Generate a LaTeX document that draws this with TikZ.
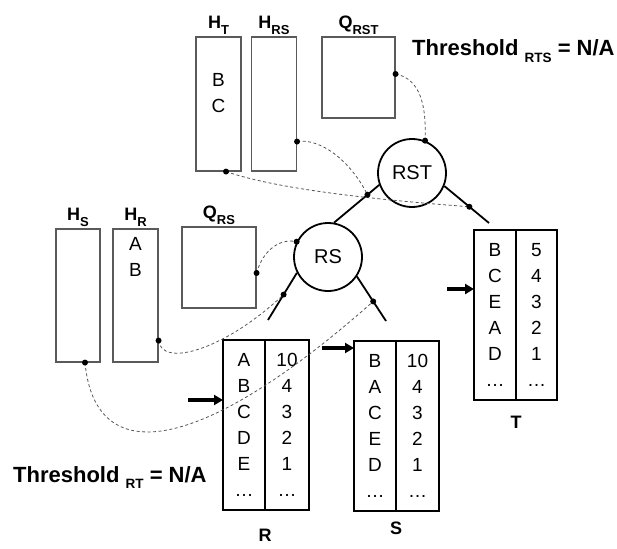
\documentclass[tikz,border=0pt]{standalone}
\usepackage{fontspec}
\setmainfont{Liberation Sans}
\usetikzlibrary{arrows.meta,calc,positioning}
\definecolor{frameGray}{HTML}{5A5A5A}
\definecolor{linkGray}{HTML}{555555}
\newcommand{\lowsub}[2][13]{\raisebox{-0.3em}{\fontsize{#1}{#1}\selectfont #2}}
\tikzset{
  hash box/.style={draw=frameGray, line width=1.1pt, minimum width=45pt,
    minimum height=134pt, inner sep=0pt},
  queue box/.style={draw=frameGray, line width=1.1pt, minimum width=74pt,
    minimum height=81pt, inner sep=0pt},
  col box/.style={draw=black, line width=1.5pt, minimum width=42pt,
    minimum height=170pt, inner sep=0pt, outer sep=0pt, align=center,
    font=\fontsize{19}{26}\selectfont},
  key text/.style={align=center, inner sep=0pt,
    font=\fontsize{19}{26}\selectfont},
  join op/.style={circle, draw=black, line width=1.8pt, minimum size=68pt,
    inner sep=0pt, font=\fontsize{20}{22}\selectfont},
  branch/.style={line width=1.8pt, draw=black},
  link/.style={draw=linkGray, line width=0.8pt, dash pattern=on 3pt off 2.5pt},
  ptr/.style={draw=black, line width=3.4pt,
    -{Triangle[length=9pt,width=10pt]}},
  box label/.style={font=\bfseries\fontsize{18}{20}\selectfont, inner sep=1pt},
  tab label/.style={font=\bfseries\fontsize{18}{20}\selectfont, inner sep=0pt},
  thr text/.style={font=\bfseries\fontsize{22}{24}\selectfont, inner sep=0pt,
    anchor=base west},
  dot/.style={fill=black}
}
\begin{document}
\begin{tikzpicture}[x=1pt,y=-1pt]
  \useasboundingbox (0,0) rectangle (617,548);

  % hash tables and queues
  \node[hash box] (ht) at (218.5,104) {};
  \node[hash box] (hrs) at (274,104) {};
  \node[queue box, minimum width=73pt] (qrst) at (358.5,77.5) {};
  \node[hash box, minimum width=44pt, minimum height=133pt] (hs) at (78,295.5) {};
  \node[hash box, minimum height=133pt] (hr) at (135.5,295.5) {};
  \node[queue box] (qrs) at (219,267.5) {};
  \node[box label, above=1pt of ht] (htl) {H\lowsub{T}};
  \node[box label, above=1pt of hrs] (hrsl) {H\lowsub{RS}};
  \node[box label, above=1pt of qrst] (qrstl) {Q\lowsub{RST}};
  \node[box label, above=1pt of hs] (hsl) {H\lowsub{S}};
  \node[box label, above=1pt of hr] (hrl) {H\lowsub{R}};
  \node[box label, above=1pt of qrs] (qrsl) {Q\lowsub{RS}};
  \node[key text] (htk) at (218.5,93) {B\\C};
  \node[key text] (hrk) at (135.5,256.5) {A\\B};

  \node[thr text] (thrts) at (412,56) {Threshold \lowsub[13.5]{RTS} = N/A};
  \node[thr text] (thrt) at (13,482) {Threshold \lowsub[13.5]{RT} = N/A};

  % join operators
  \node[join op] (rst) at (412,173) {RST};
  \node[join op] (rs) at (328,257) {RS};
  \coordinate (rstend) at (489,223);
  \coordinate (rsleft) at (268,320);
  \coordinate (rsright) at (386,321);
  \draw[branch] (rst.200) -- coordinate[pos=0.26] (rstl) (rs.80);
  \draw[branch] (rst.-22) -- coordinate[pos=0.56] (rstr) (rstend);
  \draw[branch] (rs.207) -- coordinate[pos=0.46] (rsl) (rsleft);
  \draw[branch] (rs.-34) -- coordinate[pos=0.56] (rsr) (rsright);

  % sorted relations
  \node[col box] (rk) at (244,425) {A\\B\\C\\D\\E\\\dots};
  \node[col box, minimum width=44pt, right=0pt of rk] (rv) {10\\4\\3\\2\\1\\\dots};
  \node[col box] (sk) at (375,426) {B\\A\\C\\E\\D\\\dots};
  \node[col box, minimum width=43pt, right=0pt of sk] (sv) {10\\4\\3\\2\\1\\\dots};
  \node[col box] (tk) at (495,315) {B\\C\\E\\A\\D\\\dots};
  \node[col box, minimum width=41pt, right=0pt of tk] (tv) {5\\4\\3\\2\\1\\\dots};
  \node[tab label, below=19pt of rk.south east] (rl) {R};
  \node[tab label, below=11pt of sk.south east] (sl) {S};
  \node[tab label, below=16pt of tk.south east] (tl) {T};

  \coordinate (rin) at (188,400);
  \coordinate (sin) at (322,348);
  \coordinate (tin) at (447,289);
  \draw[ptr] (rin) -- (rin -| rk.west);
  \draw[ptr] (sin) -- (sin -| sk.west);
  \draw[ptr] (tin) -- (tin -| tk.west);

  % pointers between state and operators
  \coordinate (qrstdot) at ([yshift=3.5pt]qrst.east);
  \coordinate (rsttop) at (rst.68);
  \coordinate (hrsdot) at ([yshift=30pt]hrs.south east);
  \coordinate (htdot) at ([xshift=7.5pt]ht.south);
  \coordinate (qrsdot) at ([yshift=-5.5pt]qrs.east);
  \coordinate (rstop) at (rs.154);
  \coordinate (hrdot) at ([yshift=22pt]hr.south east);
  \coordinate (hsdot) at ([xshift=7pt]hs.south);
  \draw[link] (qrstdot) .. controls (415,78) and (427,95) .. (rsttop);
  \draw[link] (hrsdot) .. controls (320,138) and (350,160) .. (rstl);
  \draw[link] (htdot) .. controls (280,190) and (380,200) .. (rstr);
  \draw[link] (qrsdot) .. controls (263,250) and (280,238) .. (rstop);
  \draw[link] (hrdot) .. controls (162,368) and (225,350) .. (rsl);
  \draw[link] (hsdot) .. controls (95,470) and (200,455) .. (rsr);
  \foreach \p in {qrstdot,rsttop,hrsdot,htdot,qrsdot,rstop,hrdot,hsdot,rstl,rstr,rsl,rsr}
    \fill[dot] (\p) circle (3pt);
\end{tikzpicture}
\end{document}
